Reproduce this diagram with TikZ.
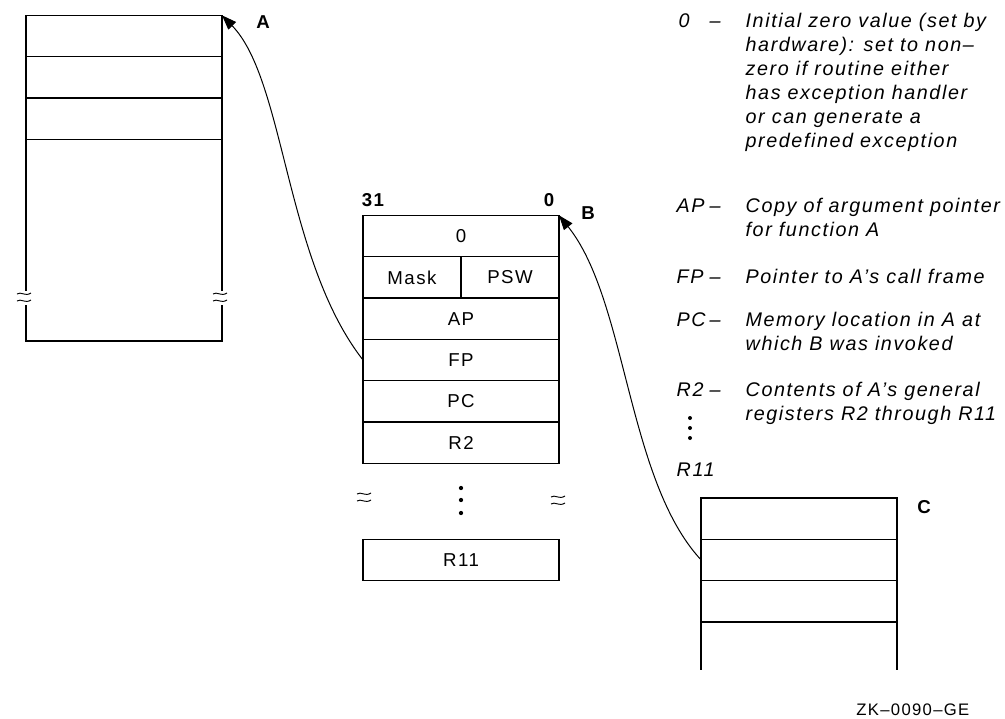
\documentclass[tikz,border=0pt]{standalone}
\usepackage{fontspec}
\setmainfont{Liberation Sans}[LetterSpace=8]
\usetikzlibrary{arrows.meta,positioning}
\tikzset{brk/.pic={
    \draw[line width=0.7pt] (-9,-3) .. controls (-5,-6) and (-1,0) .. (5,-4);
    \draw[line width=0.7pt] (-9,4) .. controls (-5,1) and (-1,7) .. (5,3);
}}

\begin{document}
\begin{tikzpicture}[x=0.75pt, y=-0.75pt, line width=1pt]
    \tikzstyle{cell}=[draw, minimum width=147pt, minimum height=31pt, inner sep=0pt, outer sep=0pt, font=\fontsize{14}{16}\selectfont]
    \tikzstyle{half}=[cell, minimum width=73.5pt]
    \tikzstyle{key}=[anchor=base west, inner sep=0pt, font=\fontsize{14.8}{18}\selectfont\itshape]
    \tikzstyle{note}=[key, align=left]
    \tikzstyle{tag}=[font=\fontsize{14}{16}\selectfont\bfseries, inner sep=0pt]
    \tikzstyle{ptr}=[-{Triangle[length=11pt, width=8pt]}, line width=0.75pt]
    \useasboundingbox (0,0) rectangle (1005,718);
    % frame of A
    \node[cell] (a1) at (124,36) {};
    \node[cell, below=0pt of a1] (a2) {};
    \node[cell, below=0pt of a2] (a3) {};
    \draw (a3.south west) -- (26,291) (26,305) |- (222,341) -- (222,305) (222,291) -- (a3.south east);
    \pic at (26,297) {brk};
    \pic at (222,297) {brk};
    \node[tag] (la) at (263,22) {A};
    % call frame of B
    \node[cell] (m0) at (461,236) {0};
    \node[half, anchor=north west] (mask) at (m0.south west) {Mask};
    \node[half, anchor=north east] (psw) at (m0.south east) {PSW};
    \node[cell, anchor=north] (ap) at (mask.south -| m0) {AP};
    \node[cell, below=0pt of ap] (fp) {FP};
    \node[cell, below=0pt of fp] (pc) {PC};
    \node[cell, below=0pt of pc] (r2) {R2};
    \node[cell] (r11) at (461,560) {R11};
    \node[tag] (hi) at (373,200) {31};
    \node[tag] (lo) at (549,200) {0};
    \node[tag] (lb) at (588,213) {B};
    \foreach \y in {488,500,513}
        \fill (461,\y) circle[radius=1.6pt];
    \pic at (366,497) {brk};
    \pic at (560,500) {brk};
    % frame of C
    \node[cell] (c1) at (799,518.5) {};
    \node[cell, below=0pt of c1] (c2) {};
    \node[cell, below=0pt of c2] (c3) {};
    \draw (c3.south west) -- ++(0,48) (c3.south east) -- ++(0,48);
    \node[tag] (lc) at (924,507) {C};
    % pointers
    \draw[ptr] (fp.west) .. controls (285,260) and (285,80) .. (a1.north east);
    \draw[ptr] (c2.west) .. controls (627,480) and (627,300) .. (m0.north east);
    % legend (notes sit on the baseline of their last line)
    \node[key] (k0) at (678,27) {0};
    \node[key] (d0) at (709,27) {--};
    \node[note] (t0) at (745,147) {Initial zero value (set by\\hardware): set to non--\\zero if routine either\\has exception handler\\or can generate a\\predefined exception};
    \node[key] (k1) at (676,212) {AP};
    \node[key] (d1) at (709,212) {--};
    \node[note] (t1) at (745,236) {Copy of argument pointer\\for function A};
    \node[key] (k2) at (676,283) {FP};
    \node[key] (d2) at (709,283) {--};
    \node[note] (t2) at (745,283) {Pointer to A's call frame};
    \node[key] (k3) at (676,326) {PC};
    \node[key] (d3) at (709,326) {--};
    \node[note] (t3) at (745,350) {Memory location in A at\\which B was invoked};
    \node[key] (k4) at (676,396) {R2};
    \node[key] (d4) at (709,396) {--};
    \node[note] (t4) at (745,420) {Contents of A's general\\registers R2 through R11};
    \foreach \y in {418,428,438}
        \fill (690,\y) circle[radius=1.5pt];
    \node[key] (k5) at (676,476) {R11};
    \node[font=\fontsize{12.5}{14}\selectfont, anchor=base east, inner sep=0pt] (fig) at (970,715) {ZK--0090--GE};
\end{tikzpicture}
\end{document}
